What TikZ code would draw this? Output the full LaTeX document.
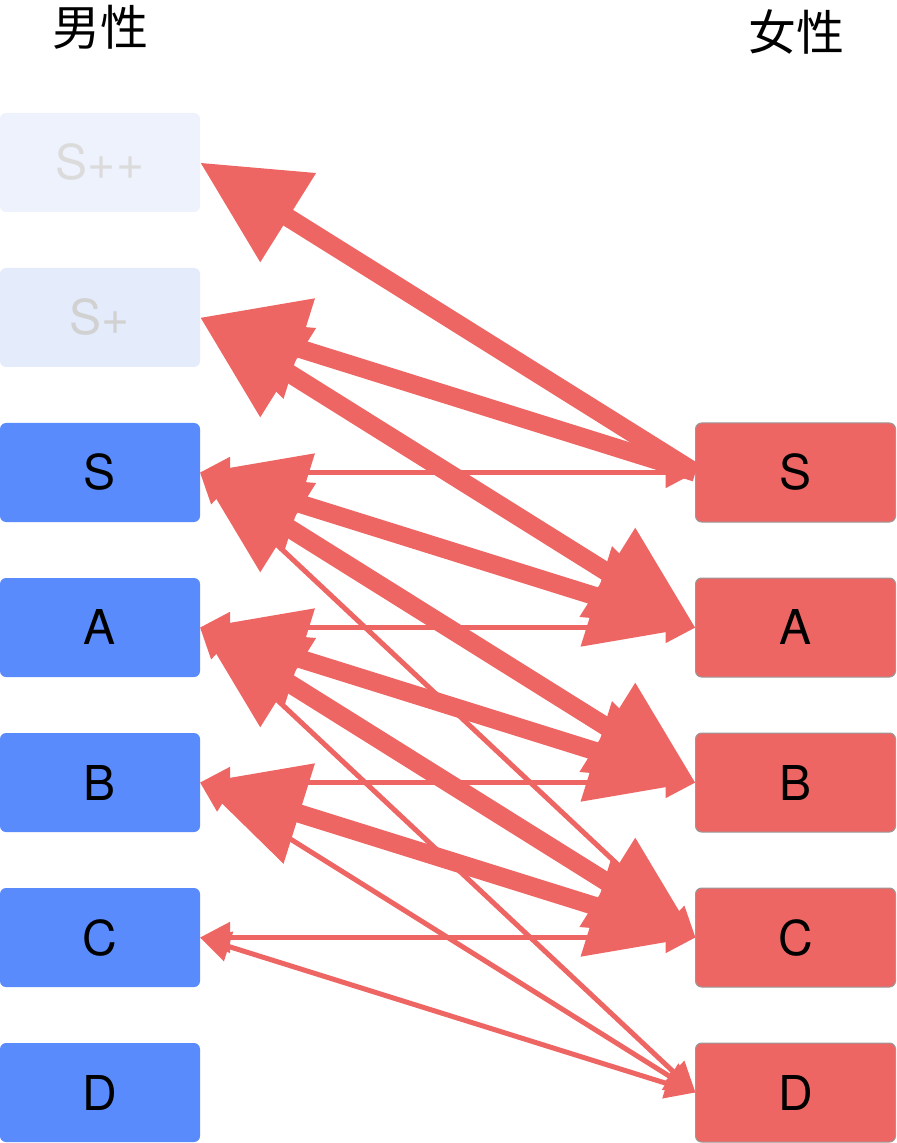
\documentclass[tikz,border=0pt]{standalone}
\usepackage{fontspec}
\setmainfont{TeX Gyre Heros}
\newfontfamily\cjk{Noto Sans CJK SC}
\usepackage{tikz}
\usetikzlibrary{arrows.meta}

\definecolor{boyblue}{RGB}{89,139,253}
\definecolor{girlred}{RGB}{238,102,99}
\definecolor{paleone}{RGB}{238,242,253}
\definecolor{paletwo}{RGB}{228,235,251}

\tikzset{
  box/.style={rounded corners=3pt,minimum width=100pt,minimum height=49.5pt,
    inner sep=0pt,outer sep=0pt,font=\fontsize{24}{24}\selectfont},
  boy/.style={box,fill=boyblue},
  girl/.style={box,fill=girlred,draw=black!40,line width=0.5pt},
  bigtip/.tip={Triangle[length=52pt,width=50pt]},
  smalltip/.tip={Triangle[length=15pt,width=15pt]},
  heavy/.style={draw=girlred,line width=9.2pt,bigtip-bigtip},
  heavyone/.style={draw=girlred,line width=9.2pt,bigtip-},
  light/.style={draw=girlred,line width=2.5pt,smalltip-smalltip},
}

\begin{document}
\begin{tikzpicture}[x=0.5pt,y=-0.5pt]
  \useasboundingbox (0,0) rectangle (896,1143);
  \node[font=\cjk\fontsize{24}{24}\selectfont] (mtitle) at (100,27) {男性};
  \node[font=\cjk\fontsize{24}{24}\selectfont] (ftitle) at (796,32) {女性};
  % men
  \node[box,fill=paleone,text=black!14] (mSpp) at (100,162.5) {S++};
  \node[box,fill=paletwo,text=black!18] (mSp) at (100,317.5) {S+};
  \foreach \nm/\lbl/\k in {mS/S/2,mA/A/3,mB/B/4,mC/C/5,mD/D/6}
    \node[boy] (\nm) at (100,{162.5+155*\k}) {\lbl};
  % women
  \foreach \nm/\lbl/\k in {fS/S/2,fA/A/3,fB/B/4,fC/C/5,fD/D/6}
    \node[girl] (\nm) at (795.5,{162.5+155*\k}) {\lbl};
  % choices
  \draw[heavyone] (mSpp.east) -- (fS.west);
  \draw[heavyone] (mSp.east) -- (fS.west);
  \foreach \a/\b in {mSp/fA,mS/fA,mS/fB,mA/fB,mA/fC,mB/fC}
    \draw[heavy] (\a.east) -- (\b.west);
  \foreach \a/\b in {mS/fS,mS/fC,mA/fA,mA/fD,mB/fB,mB/fD,mC/fC,mC/fD}
    \draw[light] (\a.east) -- (\b.west);
\end{tikzpicture}
\end{document}
